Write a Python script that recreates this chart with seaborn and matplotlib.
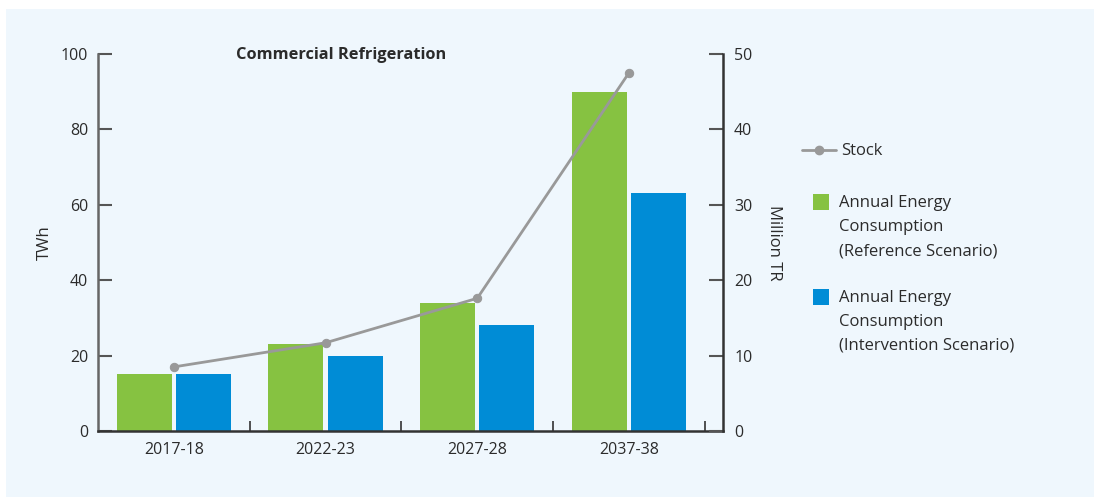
import numpy as np
import pandas as pd
import matplotlib
matplotlib.use("Agg")
import matplotlib.pyplot as plt
from matplotlib.lines import Line2D
from matplotlib.patches import Rectangle
import seaborn as sns

categories = ["2017-18", "2022-23", "2027-28", "2037-38"]
reference_twh = [15, 23, 34, 90]
intervention_twh = [15, 20, 28, 63]
stock_million_tr = [8.5, 11.7, 17.6, 47.5]
series_names = ["Annual Energy\nConsumption\n(Reference Scenario)",
                "Annual Energy\nConsumption\n(Intervention Scenario)"]
left_ticks = [0, 20, 40, 60, 80, 100]
right_ticks = [0, 10, 20, 30, 40, 50]

GREEN = "#86C241"
BLUE = "#008CD6"
GRAY = "#999999"
BG = "#EFF7FD"
TXT = "#2b2b2b"

sns.set_theme(style="white")
plt.rcParams["font.family"] = ["Open Sans", "Noto Sans", "DejaVu Sans"]

df = pd.DataFrame({
    "Year": categories * 2,
    "TWh": reference_twh + intervention_twh,
    "Scenario": [series_names[0]] * 4 + [series_names[1]] * 4,
})

W, H = 1094, 500
fig = plt.figure(figsize=(W / 100, H / 100), dpi=100, facecolor="white")
fig.add_artist(Rectangle((6 / W, 3 / H), 1088 / W, 488 / H,
                         transform=fig.transFigure, facecolor=BG,
                         edgecolor="none", zorder=-10))
ax = fig.add_axes([98 / W, 69 / H, 625 / W, 377 / H])
ax.set_facecolor("none")

sns.barplot(data=df, x="Year", y="TWh", hue="Scenario",
            palette=[GREEN, BLUE], width=0.78, gap=0.07,
            saturation=1, ax=ax, legend=False, zorder=2)
for p in ax.patches:
    p.set_edgecolor("none")

ax.set_ylim(0, 100)
ax.set_xlim(-0.5, 3.62)
ax.set_yticks(left_ticks)
ax.set_xticks([i - 0.5 for i in range(1, len(categories) + 1)], minor=True)
ax.set_xticks(range(len(categories)))
ax.set_xticklabels(categories)
ax.tick_params(axis="x", which="major", length=0, labelsize=11.5,
               labelcolor=TXT, pad=8)
ax.tick_params(axis="x", which="minor", direction="in", length=7,
               width=1.2, color="#333333", bottom=True)
ax.tick_params(axis="y", which="major", direction="in", length=10, width=1.5,
               color="#555555", labelsize=11.5, labelcolor=TXT, pad=7, left=True)
ax.set_xlabel("")
ax.set_ylabel("TWh", fontsize=12, color=TXT, labelpad=5.5)

for s in ["top", "right"]:
    ax.spines[s].set_visible(False)
ax.spines["left"].set_color("#666666")
ax.spines["left"].set_linewidth(1.8)
ax.spines["bottom"].set_color("#333333")
ax.spines["bottom"].set_linewidth(1.8)

ax2 = ax.twinx()
sns.lineplot(x=list(range(len(categories))), y=stock_million_tr, ax=ax2,
             color=GRAY, linewidth=2, marker="o", markersize=6,
             markeredgecolor=GRAY, zorder=3)
ax2.set_ylim(0, 50)
ax2.set_yticks(right_ticks)
ax2.tick_params(axis="y", direction="in", length=10, width=1.5,
                color="#555555", labelsize=11.5, labelcolor=TXT, pad=8, right=True)
for s in ["top", "left", "bottom"]:
    ax2.spines[s].set_visible(False)
ax2.spines["right"].set_color("#333333")
ax2.spines["right"].set_linewidth(1.8)
ax2.set_ylabel("Million TR", fontsize=12, color=TXT, rotation=270, labelpad=21)

ax.text(0.389, 0.998, "Commercial Refrigeration", transform=ax.transAxes,
        fontsize=11.8, fontweight="bold", color=TXT, ha="center", va="center")

# manual legend (figure pixel coordinates converted to fraction)
def fx(px):
    return px / W

def fy(py):
    return 1 - py / H

fig.add_artist(Line2D([fx(802), fx(836)], [fy(150), fy(150)], color=GRAY,
                      lw=2, transform=fig.transFigure))
fig.add_artist(Line2D([fx(819)], [fy(150)], color=GRAY, marker="o",
                      markersize=6, transform=fig.transFigure))
fig.text(fx(841), fy(151), "Stock", fontsize=12, color=TXT,
         ha="left", va="center")
for (ytop, color, label) in [(202, GREEN, series_names[0]),
                             (297, BLUE, series_names[1])]:
    fig.add_artist(Rectangle((fx(813), fy(ytop + 8)), 16 / W, 16 / H,
                             transform=fig.transFigure, facecolor=color,
                             edgecolor="none"))
    for i, line in enumerate(label.split("\n")):
        fig.text(fx(839), fy(ytop + 1 + 24 * i), line, fontsize=12, color=TXT,
                 ha="left", va="center")

fig.savefig("out.png", dpi=100, facecolor="white")
